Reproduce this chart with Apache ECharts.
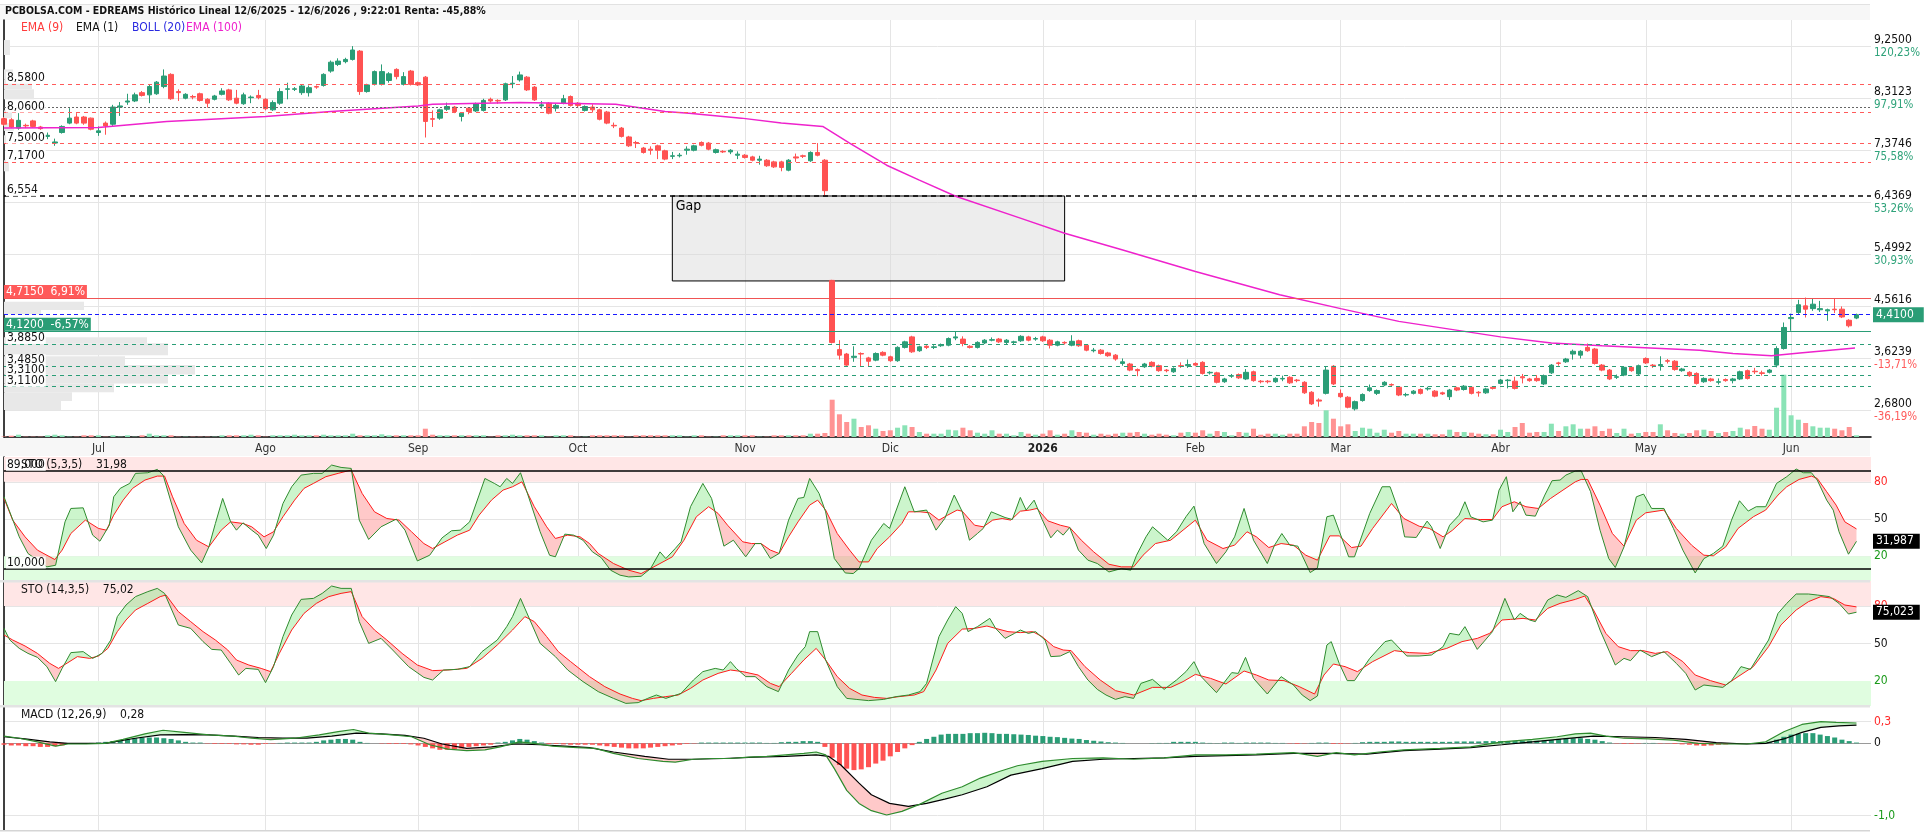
<!DOCTYPE html>
<html>
<head>
<meta charset="utf-8">
<script src="https://cdn.jsdelivr.net/npm/echarts@6/dist/echarts.min.js"></script>
<style>
  html, body { margin: 0; padding: 0; background: #fff; }
  #chart { width: 1924px; height: 835px; }
</style>
</head>
<body>
<div id="chart"></div>
<script>
// sesiones de mercado (incluye dos huecos vacios al final del eje)
const monthDays = [
  ['2025-06', [12,13,16,17,18,19,20,23,24,25,26,27,30]],
  ['2025-07', [1,2,3,4,7,8,9,10,11,14,15,16,17,18,21,22,23,24,25,28,29,30,31]],
  ['2025-08', [1,4,5,6,7,8,11,12,13,14,15,18,19,20,21,22,25,26,27,28,29]],
  ['2025-09', [1,2,3,4,5,8,9,10,11,12,15,16,17,18,19,22,23,24,25,26,29,30]],
  ['2025-10', [1,2,3,6,7,8,9,10,13,14,15,16,17,20,21,22,23,24,27,28,29,30,31]],
  ['2025-11', [3,4,5,6,7,10,11,12,13,14,17,18,19,20,21,24,25,26,27,28]],
  ['2025-12', [1,2,3,4,5,8,9,10,11,12,15,16,17,18,19,22,23,24,29,30,31]],
  ['2026-01', [2,5,6,7,8,9,12,13,14,15,16,19,20,21,22,23,26,27,28,29,30]],
  ['2026-02', [2,3,4,5,6,9,10,11,12,13,16,17,18,19,20,23,24,25,26,27]],
  ['2026-03', [2,3,4,5,6,9,10,11,12,13,16,17,18,19,20,23,24,25,26,27,30,31]],
  ['2026-04', [1,2,7,8,9,10,13,14,15,16,17,20,21,22,23,24,27,28,29,30]],
  ['2026-05', [4,5,6,7,8,11,12,13,14,15,18,19,20,21,22,25,26,27,28,29]],
  ['2026-06', [1,2,3,4,5,8,9,10,11,12,15,16]]
];
const monthNames = ['Jul','Ago','Sep','Oct','Nov','Dic','2026','Feb','Mar','Abr','May','Jun'];

// [apertura, cierre, minimo, maximo]
const ohlc = [
  [7.95,7.85,7.82,7.98],[7.93,7.80,7.78,7.96],[7.78,7.92,7.75,8.05],[7.83,7.82,7.78,7.86],[7.91,7.81,7.79,7.93],
  [7.80,7.77,7.75,7.82],[7.63,7.65,7.58,7.70],[7.51,7.53,7.46,7.59],[7.70,7.81,7.68,7.83],[7.87,7.96,7.85,8.14],
  [7.98,7.87,7.85,8.05],[7.98,7.87,7.84,8.00],[7.96,7.76,7.74,7.97],[7.70,7.73,7.64,7.81],[7.87,7.82,7.66,7.90],
  [7.85,8.16,7.82,8.20],[8.16,8.18,8.00,8.25],[8.25,8.27,8.20,8.40],[8.27,8.38,8.25,8.42],[8.42,8.37,8.35,8.45],
  [8.38,8.53,8.23,8.56],[8.40,8.61,8.38,8.63],[8.53,8.72,8.50,8.84],[8.75,8.31,8.29,8.77],[8.44,8.42,8.27,8.48],
  [8.32,8.39,8.30,8.41],[8.35,8.34,8.30,8.38],[8.40,8.28,8.26,8.42],[8.30,8.23,8.15,8.32],[8.30,8.36,8.28,8.38],
  [8.39,8.45,8.37,8.50],[8.47,8.29,8.27,8.49],[8.32,8.23,8.21,8.47],[8.22,8.38,8.20,8.42],[8.33,8.34,8.23,8.37],
  [8.37,8.33,8.30,8.47],[8.30,8.13,8.10,8.32],[8.11,8.24,8.09,8.28],[8.23,8.44,8.20,8.50],[8.48,8.49,8.30,8.60],
  [8.48,8.49,8.45,8.52],[8.42,8.54,8.38,8.57],[8.42,8.51,8.35,8.55],[8.53,8.52,8.49,8.55],[8.55,8.75,8.53,8.77],
  [8.81,8.97,8.78,9.00],[8.93,8.99,8.90,9.04],[8.98,9.02,8.95,9.05],[9.02,9.19,9.00,9.26],[9.17,8.44,8.38,9.19],
  [8.44,8.56,8.42,8.58],[8.57,8.80,8.55,8.82],[8.57,8.80,8.55,8.93],[8.64,8.76,8.60,8.79],[8.84,8.71,8.66,8.86],
  [8.57,8.71,8.55,8.79],[8.81,8.57,8.55,8.83],[8.60,8.56,8.54,8.62],[8.70,7.90,7.61,8.72],[7.95,7.94,7.80,8.10],
  [7.96,8.11,7.93,8.13],[8.12,8.17,8.09,8.24],[8.16,8.08,8.05,8.18],[7.99,8.05,7.90,8.07],[8.14,8.08,8.03,8.16],
  [8.09,8.22,8.07,8.24],[8.10,8.28,8.08,8.31],[8.30,8.27,8.24,8.33],[8.28,8.27,8.22,8.30],[8.29,8.58,8.27,8.60],
  [8.58,8.59,8.50,8.72],[8.65,8.74,8.62,8.80],[8.70,8.47,8.45,8.72],[8.52,8.29,8.27,8.54],[8.18,8.20,8.13,8.27],
  [8.23,8.05,8.03,8.25],[8.14,8.19,8.08,8.22],[8.23,8.31,8.21,8.38],[8.35,8.19,8.17,8.37],[8.23,8.19,8.16,8.25],
  [8.10,8.17,8.08,8.19],[8.16,8.11,8.06,8.21],[8.11,7.94,7.92,8.13],[8.07,7.87,7.85,8.09],[7.83,7.82,7.78,7.88],
  [7.78,7.63,7.61,7.80],[7.62,7.46,7.44,7.64],[7.52,7.51,7.42,7.55],[7.42,7.34,7.32,7.44],[7.40,7.38,7.30,7.45],
  [7.46,7.38,7.22,7.48],[7.37,7.22,7.20,7.39],[7.27,7.28,7.22,7.35],[7.28,7.29,7.25,7.33],[7.38,7.40,7.30,7.45],
  [7.38,7.46,7.36,7.48],[7.52,7.47,7.45,7.54],[7.51,7.40,7.38,7.53],[7.34,7.39,7.32,7.41],[7.36,7.35,7.33,7.38],
  [7.35,7.38,7.31,7.40],[7.29,7.31,7.22,7.36],[7.29,7.25,7.23,7.31],[7.26,7.20,7.18,7.28],[7.20,7.22,7.12,7.28],
  [7.20,7.10,7.08,7.22],[7.17,7.08,7.06,7.19],[7.17,7.07,7.00,7.19],[7.02,7.20,7.00,7.22],[7.26,7.24,7.17,7.32],
  [7.28,7.27,7.24,7.30],[7.19,7.34,7.17,7.36],[7.34,7.29,7.27,7.51],[7.20,6.65,6.554,7.22],[5.03,3.91,3.89,5.04],
  [3.78,3.68,3.60,3.95],[3.70,3.50,3.47,3.72],[3.64,3.66,3.56,3.84],[3.71,3.70,3.48,3.73],[3.63,3.57,3.48,3.65],
  [3.59,3.71,3.57,3.73],[3.73,3.68,3.66,3.75],[3.65,3.58,3.56,3.67],[3.58,3.82,3.56,3.84],[3.82,3.92,3.80,3.94],
  [4.01,3.74,3.72,4.03],[3.76,3.83,3.74,3.85],[3.84,3.82,3.79,3.86],[3.82,3.83,3.79,3.86],[3.85,3.87,3.83,3.89],
  [3.86,3.98,3.84,4.00],[3.99,4.01,3.95,4.10],[3.97,3.89,3.84,4.02],[3.84,3.82,3.80,3.86],[3.82,3.91,3.80,3.93],
  [3.90,3.95,3.88,3.97],[3.95,3.96,3.93,4.00],[3.97,3.92,3.90,3.99],[3.91,3.95,3.88,3.97],[3.91,3.92,3.87,3.94],
  [3.94,4.02,3.92,4.04],[4.01,3.95,3.93,4.03],[3.97,3.98,3.94,4.01],[4.01,3.94,3.92,4.03],[3.95,3.86,3.80,3.97],
  [3.86,3.92,3.84,3.94],[3.91,3.90,3.87,3.93],[3.86,3.93,3.84,4.04],[3.94,3.85,3.83,3.96],[3.86,3.77,3.75,3.88],
  [3.76,3.77,3.73,3.81],[3.77,3.71,3.69,3.79],[3.72,3.67,3.65,3.74],[3.68,3.61,3.58,3.70],[3.53,3.56,3.49,3.62],
  [3.52,3.41,3.39,3.54],[3.42,3.40,3.30,3.44],[3.47,3.52,3.45,3.54],[3.55,3.48,3.46,3.57],[3.49,3.40,3.38,3.51],
  [3.41,3.40,3.37,3.43],[3.38,3.44,3.36,3.46],[3.49,3.48,3.45,3.55],[3.49,3.51,3.45,3.60],[3.53,3.50,3.48,3.55],
  [3.55,3.35,3.33,3.57],[3.36,3.37,3.33,3.39],[3.36,3.19,3.17,3.38],[3.20,3.25,3.18,3.27],[3.30,3.31,3.27,3.34],
  [3.33,3.27,3.25,3.35],[3.25,3.37,3.23,3.43],[3.38,3.22,3.20,3.40],[3.21,3.20,3.17,3.23],[3.21,3.20,3.17,3.23],
  [3.20,3.26,3.18,3.28],[3.25,3.26,3.21,3.31],[3.28,3.18,3.16,3.30],[3.23,3.22,3.19,3.25],[3.19,3.00,2.98,3.21],
  [3.01,2.80,2.78,3.03],[2.87,2.85,2.75,2.90],[2.99,3.41,2.97,3.48],[3.48,3.16,3.14,3.50],[2.99,2.93,2.91,3.06],
  [2.92,2.74,2.72,2.94],[2.71,2.84,2.68,2.86],[2.86,2.97,2.84,2.99],[3.04,3.09,3.02,3.15],[2.99,3.04,2.96,3.06],
  [3.14,3.19,3.12,3.21],[3.15,3.14,3.11,3.17],[3.10,2.96,2.94,3.12],[2.96,2.97,2.93,3.00],[2.99,3.03,2.97,3.05],
  [3.06,2.99,2.97,3.08],[3.07,3.08,3.04,3.11],[3.03,2.94,2.92,3.05],[3.00,2.98,2.96,3.02],[2.93,3.05,2.87,3.07],
  [3.09,3.05,3.03,3.11],[3.06,3.12,3.04,3.14],[3.10,2.99,2.97,3.12],[3.01,3.00,2.93,3.03],[3.00,3.07,2.98,3.09],
  [3.10,3.08,3.06,3.12],[3.17,3.23,3.15,3.25],[3.22,3.23,3.08,3.25],[3.21,3.08,3.06,3.29],[3.29,3.27,3.17,3.34],
  [3.25,3.22,3.20,3.27],[3.26,3.22,3.20,3.32],[3.16,3.31,3.14,3.33],[3.36,3.50,3.34,3.52],[3.54,3.53,3.49,3.56],
  [3.56,3.61,3.54,3.63],[3.70,3.75,3.60,3.78],[3.68,3.75,3.62,3.77],[3.82,3.76,3.74,3.89],[3.79,3.53,3.51,3.81],
  [3.50,3.41,3.39,3.52],[3.41,3.25,3.23,3.43],[3.28,3.29,3.25,3.33],[3.32,3.46,3.30,3.48],[3.46,3.40,3.38,3.48],
  [3.34,3.49,3.32,3.51],[3.62,3.54,3.52,3.64],[3.50,3.49,3.45,3.52],[3.49,3.51,3.40,3.66],[3.58,3.57,3.53,3.61],
  [3.57,3.42,3.40,3.59],[3.40,3.43,3.38,3.45],[3.37,3.31,3.29,3.39],[3.35,3.17,3.15,3.37],[3.20,3.26,3.18,3.28],
  [3.25,3.22,3.20,3.27],[3.19,3.20,3.15,3.26],[3.24,3.22,3.20,3.26],[3.22,3.25,3.17,3.27],[3.25,3.38,3.23,3.40],
  [3.40,3.26,3.24,3.42],[3.39,3.38,3.34,3.45],[3.36,3.35,3.31,3.40],[3.37,3.41,3.35,3.43],[3.50,3.80,3.46,3.84],
  [3.80,4.18,3.78,4.27],[4.34,4.36,4.12,4.43],[4.45,4.59,4.41,4.68],[4.57,4.51,4.36,4.72],[4.52,4.60,4.48,4.70],
  [4.50,4.52,4.46,4.66],[4.48,4.50,4.30,4.52],[4.51,4.50,4.44,4.71],[4.51,4.37,4.35,4.56],[4.31,4.21,4.18,4.33],
  [4.35,4.41,4.33,4.43]
];

// volumen diario (miles de titulos)
const volume = [
  5,13,23,3,3,3,17,23,17,3, 3,17,17,17,3,17,3,17,3,17, 33,17,17,17,3,3,3,3,3,3,
  17,17,17,17,23,17,3,17,17,17, 23,17,17,17,23,17,17,17,33,17, 17,17,27,17,17,17,17,17,83,23,
  17,17,17,17,17,17,17,3,17,17, 23,17,17,17,17,3,17,17,17,3, 3,17,17,17,17,17,3,17,17,17,
  17,17,17,17,3,17,17,3,3,17, 17,17,17,17,3,3,17,17,17,17, 17,33,33,40,373,227,150,183,100,117,
  83,60,67,93,117,100,50,33,33,33, 73,67,93,67,43,33,67,33,33,17, 50,33,23,33,67,23,33,67,50,43,
  23,33,23,33,43,43,50,33,23,33, 23,17,43,50,43,67,33,60,50,17, 50,43,83,23,33,33,23,33,33,107,
  150,140,267,183,107,127,60,93,83,43, 73,43,60,33,33,33,33,27,27,73, 50,50,43,33,27,27,73,50,100,140,
  43,50,50,133,60,107,127,83,83,107, 60,83,40,83,33,40,50,50,127,67, 40,33,40,67,73,60,40,50,60,93,
  77,110,83,73,293,623,217,173,140,107, 93,93,83,67,100,17
];

// perfil de volumen por precio: [volumen, precio bajo, precio alto]
const volProfile = [
  [60, 9.10, 9.37], [90, 8.66, 8.84], [280, 8.48, 8.66], [300, 8.30, 8.48], [80, 7.96, 8.10],
  [100, 7.73, 7.87], [40, 7.50, 7.65], [50, 7.00, 7.20],
  [800, 4.494, 4.645], [370, 4.42, 4.494], [1430, 3.897, 4.005], [1640, 3.68, 3.897],
  [1210, 3.50, 3.66], [1910, 3.33, 3.50], [1640, 3.17, 3.33], [1100, 3.01, 3.17],
  [680, 2.85, 3.01], [570, 2.69, 2.85]
];

// EMA(100): [sesion, precio]
const ema100 = [
  [0,7.78],[13,7.79],[22.4,7.90],[36,7.99],[45,8.08],[57,8.18],[59,8.21],[71,8.24],[84.2,8.21],
  [91,8.08],[94.3,8.05],[101.5,7.96],[107,7.87],[112.7,7.81],[116.4,7.51],[121.5,7.11],[126,6.84],
  [131,6.55],[140,6.15],[146,5.88],[154,5.58],[164,5.19],[175.6,4.77],[184,4.52],[192,4.29],
  [199,4.15],[206,4.01],[213,3.90],[220,3.85],[226.6,3.81],[233.4,3.77],[238,3.71],[243.3,3.67],
  [247.2,3.72],[254.8,3.81]
];

// niveles horizontales
const resistLevels = [8.58, 8.06, 7.50, 7.17];
const supportLevels = [3.885, 3.485, 3.31, 3.11];
const gapLevel = 6.554;
const refPrice = 8.149;
const upperBand = 4.715;
const lowerBand = 4.12;
const lastPrice = 4.41;
const gapZone = [92, 146, 6.554, 5.02];   // sesion inicio, sesion fin, precio alto, precio bajo

// escala derecha del precio
const priceTicks = [2.68, 3.6239, 4.5616, 5.4992, 6.4369, 7.3746, 8.3123, 9.25];
const priceTickPct = ['-36,19%', '-13,71%', '', '30,93%', '53,26%', '75,58%', '97,91%', '120,23%'];

// STO (5,3,5)
const stoFastK = [[0,67.9],[2.1,35.6],[3.3,22.2],[4.6,16.8],[5.9,11.4],[7.1,12.7],[8.4,47.7],[9.2,58.5],[10.9,59.0],[12.2,37.0],[13.2,32.1],[14.5,45.0],[15.1,67.9],[16.0,74.7],[17.3,78.7],[18.1,86.8],[19.8,87.3],[21.1,90.0],[21.9,85.4],[24.0,43.7],[25.7,24.9],[27.2,14.6],[28.2,27.5],[29.1,46.4],[30.1,66.6],[31.2,47.7],[32.0,41.0],[32.9,46.9],[34.1,41.0],[35.0,37.0],[36.1,26.2],[37.1,37.0],[38.4,62.5],[39.6,76.0],[40.9,85.4],[42.6,86.8],[43.8,86.8],[45.1,93.5],[46.4,91.6],[47.8,90.8],[48.9,49.1],[50.2,33.5],[51.9,43.7],[54.0,49.9],[55.2,41.0],[56.9,16.2],[58.6,20.8],[60.3,34.8],[61.6,40.5],[62.8,41.0],[64.1,47.7],[65.4,69.3],[66.2,82.7],[67.5,78.7],[68.3,76.0],[69.2,82.7],[70.0,78.7],[71.1,87.3],[71.9,73.3],[73.8,39.7],[75.1,20.8],[75.9,19.5],[77.2,37.8],[78.4,37.0],[79.7,32.9],[81.0,23.5],[82.2,18.9],[83.5,8.7],[84.8,4.7],[86.0,3.3],[87.7,3.8],[89.0,10.0],[90.3,23.5],[91.1,18.1],[92.4,26.2],[93.2,31.6],[94.5,59.9],[96.2,78.7],[97.4,66.6],[99.1,28.1],[100.4,32.9],[102.1,19.5],[103.4,30.2],[104.2,30.2],[105.5,18.1],[106.7,22.2],[108.0,49.1],[109.3,66.6],[110.1,67.4],[110.9,82.7],[112.2,70.6],[113.1,55.8],[114.3,18.1],[115.8,6.5],[116.9,6.0],[117.7,10.0],[119.4,32.9],[121.1,46.4],[121.9,42.4],[124.0,76.0],[125.3,55.8],[127.0,57.2],[128.3,41.0],[129.5,50.4],[130.8,69.3],[131.9,56.0],[132.9,32.9],[134.0,38.3],[134.8,42.4],[135.9,55.8],[137.8,51.2],[138.8,49.6],[139.9,67.4],[140.7,57.2],[141.8,65.2],[142.9,49.6],[144.1,34.8],[145.0,41.0],[145.8,37.0],[146.7,43.2],[147.9,24.9],[149.2,16.8],[150.5,14.1],[152.1,7.3],[153.8,10.0],[155.1,8.7],[155.9,20.8],[157.2,35.6],[158.1,43.7],[160.2,32.9],[161.4,39.7],[162.7,51.8],[163.8,60.4],[165.2,30.2],[166.9,14.1],[168.2,23.5],[169.4,35.6],[170.7,58.5],[172.0,32.9],[173.9,14.1],[174.9,28.9],[175.9,38.3],[177.0,28.9],[178.1,28.1],[179.8,6.8],[180.8,10.6],[182.1,51.8],[183.0,53.1],[185.1,19.5],[185.9,19.5],[188.0,54.5],[189.7,76.0],[190.8,76.0],[192.2,53.1],[192.8,35.6],[194.4,35.1],[195.9,48.3],[196.5,43.7],[197.7,26.2],[199.0,45.0],[200.3,53.1],[201.1,63.9],[201.9,51.8],[203.6,47.7],[204.9,49.1],[205.8,73.3],[206.8,84.1],[207.7,55.8],[208.7,63.9],[209.5,53.1],[210.8,52.3],[212.1,69.3],[213.1,80.9],[214.2,81.4],[215.0,85.4],[216.3,88.7],[217.1,88.9],[218.4,72.0],[219.7,41.0],[220.9,18.1],[221.8,10.9],[223.0,27.5],[224.7,67.9],[225.7,70.1],[226.8,58.5],[228.5,58.5],[229.8,42.4],[231.1,24.9],[232.8,6.5],[234.0,18.1],[235.3,22.2],[236.6,28.1],[237.8,49.1],[238.9,64.7],[240.1,56.4],[241.2,59.9],[242.5,59.9],[244.0,78.7],[245.4,84.1],[246.7,90.3],[247.7,87.3],[248.8,87.3],[249.6,81.4],[250.9,65.2],[251.8,57.2],[252.6,39.7],[253.9,21.6],[255,31.987]];
const stoFastD = [[0,66.6],[1.2,49.1],[2.9,35.6],[4.6,24.9],[7.0,17.3],[8.0,24.9],[9.2,38.3],[11.2,49.1],[13.0,42.4],[14.1,41.0],[15.1,53.1],[16.4,65.2],[17.7,74.7],[19.4,81.4],[21.1,84.6],[22.1,84.6],[23.2,67.9],[24.8,46.4],[26.5,32.9],[28.2,27.5],[29.9,41.0],[31.2,47.7],[32.9,46.4],[34.1,43.7],[35.8,35.6],[37.1,39.7],[38.4,51.8],[40.0,65.2],[41.3,74.7],[42.6,78.7],[44.3,84.1],[46.0,86.8],[47.8,89.5],[49.3,70.6],[51.0,55.8],[52.7,50.4],[54.4,49.1],[56.1,39.7],[57.8,30.2],[59.0,26.2],[60.7,31.6],[62.4,37.0],[64.1,41.0],[65.4,53.1],[67.1,65.2],[68.7,73.3],[70.0,76.0],[71.3,80.0],[73.0,59.9],[74.7,43.7],[75.9,34.3],[77.6,37.0],[79.3,35.6],[80.6,30.2],[81.8,22.2],[83.9,14.1],[86.0,8.7],[87.7,6.0],[89.0,10.0],[90.3,14.1],[92.0,19.5],[93.6,32.9],[95.3,51.8],[97.0,59.9],[98.3,54.5],[99.6,45.0],[101.7,31.6],[102.9,30.2],[104.2,30.2],[105.5,24.9],[106.7,22.2],[108.0,35.6],[109.3,47.7],[110.9,61.2],[112.0,65.2],[113.1,57.2],[114.7,38.3],[116.4,24.9],[117.7,15.4],[119.0,15.4],[120.2,26.2],[121.9,35.6],[123.6,46.4],[124.5,55.8],[126.1,55.8],[127.4,55.0],[128.7,49.1],[129.9,53.1],[131.2,57.2],[131.9,56.3],[133.6,45.0],[134.8,43.7],[136.1,49.1],[137.4,50.4],[138.6,49.1],[139.9,56.3],[141.2,57.2],[142.2,58.5],[143.7,48.5],[145.4,45.0],[146.7,43.2],[148.3,32.9],[150.0,23.5],[152.1,13.5],[153.8,11.4],[155.5,11.4],[156.8,20.8],[158.5,30.2],[160.6,32.9],[162.3,41.0],[164.0,49.1],[165.6,32.9],[167.8,26.2],[169.4,28.9],[171.1,39.7],[172.4,35.6],[174.1,27.0],[175.8,30.2],[177.5,28.9],[179.2,20.8],[180.8,16.8],[182.5,36.4],[183.8,36.4],[185.5,27.0],[186.8,28.1],[188.4,42.4],[191.0,62.5],[192.7,50.4],[194.8,44.2],[196.2,42.4],[198.1,35.6],[199.4,41.0],[201.1,50.4],[203.2,49.6],[204.9,49.6],[206.2,59.9],[207.9,63.9],[209.5,59.9],[211.2,58.5],[212.9,66.6],[214.6,73.3],[216.3,80.0],[217.1,81.9],[218.0,81.9],[219.7,61.2],[221.4,38.3],[223.0,28.1],[224.7,49.1],[226.0,55.0],[228.5,57.2],[230.2,42.4],[232.3,28.9],[234.0,20.8],[235.3,20.3],[237.0,27.5],[238.7,42.4],[240.8,51.8],[242.5,57.2],[244.2,69.3],[245.4,76.0],[247.1,81.9],[248.8,84.6],[249.6,82.7],[250.9,72.0],[252.2,61.2],[253.4,47.7],[255,42.0]];

// STO (14,3,5)
const stoSlowK = [[0,62.1],[0.8,52.8],[2.1,46.1],[3.3,42.1],[4.6,38.9],[5.9,31.5],[7.1,19.5],[8.0,30.1],[9.2,42.7],[10.9,43.5],[12.2,38.1],[13.5,42.1],[14.7,52.8],[15.6,71.5],[16.8,80.8],[18.1,87.5],[19.8,91.5],[21.1,94.1],[22.1,90.1],[24.0,64.8],[25.7,62.1],[27.4,51.5],[28.6,45.3],[29.9,44.8],[31.2,34.1],[32.3,24.8],[33.3,30.1],[35.0,29.3],[36.0,18.7],[37.1,31.5],[38.4,55.5],[39.6,72.8],[40.9,85.3],[42.6,86.1],[43.8,90.1],[45.1,96.0],[46.4,94.1],[47.8,94.1],[48.9,67.5],[50.2,50.1],[51.9,54.1],[53.5,44.8],[55.7,31.5],[57.8,22.9],[59.0,20.8],[60.5,28.8],[62.4,29.3],[64.1,31.5],[65.8,43.5],[67.9,52.8],[69.2,63.5],[70.0,71.5],[71.1,86.1],[72.1,72.8],[73.8,50.1],[75.9,39.5],[77.6,28.8],[79.7,19.5],[81.8,11.5],[83.9,6.1],[85.6,2.1],[87.3,2.7],[88.6,6.1],[89.8,8.8],[91.1,6.1],[93.2,10.1],[94.9,20.8],[96.2,27.5],[97.9,30.1],[99.0,28.8],[100.0,35.5],[100.8,30.1],[102.1,23.5],[103.4,23.5],[105.0,15.5],[106.6,11.5],[108.0,28.8],[109.3,40.8],[110.3,47.5],[110.9,59.5],[112.0,59.5],[113.1,36.8],[114.7,15.5],[116.0,6.1],[117.3,5.3],[119.0,4.3],[121.1,5.3],[122.8,7.5],[124.5,8.8],[126.1,11.5],[127.0,18.1],[128.7,55.5],[129.9,68.8],[131.0,79.5],[131.9,74.1],[132.7,59.5],[134.0,63.5],[135.7,70.1],[136.5,62.1],[137.8,54.1],[139.1,58.1],[139.9,60.8],[141.0,58.1],[142.0,59.5],[143.3,52.8],[144.1,39.5],[145.4,40.0],[146.7,43.5],[147.9,31.5],[149.2,20.8],[150.5,13.3],[151.7,8.8],[153.0,5.3],[154.3,7.5],[155.5,6.1],[156.5,18.1],[158.1,21.3],[159.7,13.3],[161.4,20.8],[162.7,27.5],[163.8,35.5],[164.8,23.5],[166.9,10.7],[169.0,26.7],[169.9,26.1],[170.9,38.9],[172.0,22.1],[173.9,9.6],[175.8,23.5],[177.5,16.8],[178.7,8.8],[179.8,4.3],[180.8,8.0],[182.1,48.8],[182.7,51.5],[183.8,34.1],[184.9,20.3],[185.9,20.3],[188.0,38.1],[190.1,51.5],[191.0,52.8],[193.1,40.0],[194.8,40.0],[196.5,40.8],[198.1,47.5],[199.0,58.1],[200.3,56.8],[201.1,63.5],[202.8,45.3],[204.9,59.5],[206.6,86.1],[207.9,68.8],[208.7,74.1],[210.0,68.8],[210.8,67.5],[212.5,84.8],[213.8,88.8],[215.0,86.9],[216.7,92.3],[218.0,87.5],[219.7,60.8],[220.9,44.8],[221.8,32.8],[223.0,38.1],[223.9,36.3],[225.2,44.8],[226.8,39.5],[228.5,43.5],[230.2,34.1],[231.5,26.1],[232.8,12.8],[234.0,16.8],[236.6,14.9],[237.8,20.3],[239.1,31.5],[240.4,29.3],[241.6,40.8],[242.9,52.8],[244.2,74.1],[245.4,82.1],[246.7,89.6],[248.4,89.6],[249.6,88.8],[251.3,87.5],[252.6,82.1],[253.9,73.6],[255,75.023]];
const stoSlowD = [[0,56.8],[1.2,52.8],[2.9,48.0],[4.6,42.1],[6.3,34.1],[7.5,30.1],[8.8,34.7],[10.1,39.5],[11.8,38.1],[13.0,40.0],[14.3,46.1],[15.6,59.5],[16.8,68.8],[18.1,76.8],[19.8,82.1],[21.5,87.5],[22.3,88.8],[24.0,75.5],[25.7,67.5],[27.4,59.5],[29.1,52.8],[30.8,44.8],[32.0,36.8],[33.7,32.8],[35.4,30.1],[36.7,27.5],[37.9,42.1],[39.6,60.8],[41.3,74.1],[43.0,82.1],[44.7,87.5],[46.4,90.1],[47.8,91.5],[49.3,71.5],[51.0,60.8],[52.7,52.8],[54.8,42.1],[56.9,32.8],[59.0,28.3],[61.1,28.8],[63.7,30.1],[65.8,38.1],[67.9,48.8],[70.0,60.8],[71.7,71.5],[73.0,67.5],[74.7,55.5],[76.3,43.5],[78.0,35.5],[80.6,23.5],[82.7,15.5],[84.8,9.6],[86.5,6.1],[87.7,4.3],[89.4,6.1],[91.1,7.5],[92.8,8.8],[94.5,14.1],[96.2,20.8],[98.3,26.1],[100.0,28.8],[101.7,27.5],[103.8,24.8],[105.5,18.1],[106.7,15.5],[108.4,26.1],[110.1,36.8],[111.8,46.1],[113.1,36.8],[114.7,23.5],[116.4,14.1],[118.1,8.8],[119.8,6.9],[121.5,6.1],[123.2,7.5],[125.3,8.8],[126.6,11.5],[128.3,28.8],[129.9,50.1],[131.9,61.5],[133.6,62.1],[135.3,64.0],[136.5,62.1],[138.2,59.5],[139.9,58.7],[141.6,59.5],[142.9,55.5],[144.5,47.5],[145.8,44.8],[146.9,44.3],[148.8,31.5],[150.9,20.8],[153.0,12.3],[155.5,8.8],[158.1,14.9],[160.6,14.9],[162.3,19.5],[164.0,25.3],[166.1,22.1],[168.2,17.6],[170.7,28.0],[172.4,24.8],[174.1,20.8],[176.2,20.3],[178.3,15.5],[180.4,9.6],[181.7,24.8],[183.0,33.6],[184.6,31.5],[186.3,27.5],[188.4,35.5],[191.4,44.3],[193.5,42.7],[196.0,42.1],[198.6,46.1],[200.7,51.5],[202.8,54.1],[204.5,58.1],[206.2,68.8],[207.4,69.3],[209.1,70.1],[210.8,68.8],[212.5,78.1],[214.2,82.1],[216.3,85.3],[217.6,88.0],[218.8,76.8],[220.5,58.1],[222.2,47.5],[223.9,44.3],[225.6,44.3],[227.3,42.1],[229.0,43.5],[231.1,35.5],[232.8,24.8],[234.9,20.3],[237.0,16.8],[238.7,23.5],[240.8,31.5],[242.9,47.5],[244.6,64.8],[246.7,76.8],[248.4,83.5],[250.1,87.5],[251.8,86.1],[253.4,80.8],[255,79.3]];

// MACD (12,26,9)
const macdLine = [[0,0.10],[2.1,0.07],[4.6,0.02],[7.1,-0.04],[8.8,-0.01],[11.3,-0.01],[13.9,0.00],[16.4,0.055],[19.4,0.13],[21.9,0.18],[24.8,0.15],[28.2,0.115],[31.6,0.10],[34.1,0.07],[36.7,0.05],[40.0,0.07],[43.4,0.115],[46.0,0.16],[48.1,0.19],[50.2,0.14],[53.5,0.115],[56.1,0.09],[58.6,-0.02],[61.1,-0.08],[63.7,-0.10],[66.2,-0.09],[68.3,-0.05],[70.9,0.02],[73.0,0.00],[75.5,-0.04],[78.9,-0.06],[81.4,-0.07],[83.9,-0.14],[87.3,-0.21],[90.7,-0.25],[92.4,-0.26],[94.9,-0.22],[97.4,-0.21],[100.0,-0.21],[102.5,-0.19],[105.0,-0.18],[107.6,-0.16],[110.1,-0.14],[111.8,-0.12],[113.1,-0.16],[114.3,-0.35],[116.0,-0.65],[117.7,-0.83],[119.4,-0.93],[121.5,-0.99],[123.6,-0.94],[126.1,-0.84],[129.1,-0.69],[131.9,-0.60],[134.4,-0.48],[137.0,-0.39],[139.5,-0.31],[142.9,-0.25],[147.1,-0.21],[151.3,-0.20],[155.5,-0.22],[159.7,-0.20],[164.0,-0.16],[168.2,-0.16],[172.4,-0.15],[177.5,-0.13],[180.8,-0.18],[183.4,-0.13],[185.9,-0.16],[189.3,-0.12],[192.7,-0.09],[197.7,-0.07],[201.9,-0.05],[206.2,0.02],[210.4,0.055],[213.8,0.09],[216.3,0.13],[218.4,0.14],[220.5,0.10],[223.0,0.07],[226.4,0.06],[229.8,0.045],[233.2,0.00],[236.6,-0.01],[239.9,-0.01],[242.5,0.02],[245.0,0.16],[247.5,0.26],[250.1,0.30],[252.2,0.29],[255,0.28]];
const macdSignal = [[0,0.09],[2.9,0.06],[6.3,0.02],[8.8,0.00],[13.9,0.00],[18.1,0.07],[21.5,0.115],[24.8,0.12],[28.2,0.115],[31.6,0.10],[35.0,0.08],[38.4,0.07],[41.7,0.07],[45.1,0.10],[48.5,0.14],[51.9,0.13],[55.2,0.11],[57.8,0.07],[60.3,-0.01],[63.7,-0.07],[67.1,-0.05],[70.4,-0.01],[73.8,-0.02],[77.2,-0.04],[80.6,-0.06],[83.9,-0.12],[88.2,-0.18],[91.5,-0.22],[94.9,-0.22],[99.1,-0.21],[103.4,-0.19],[107.6,-0.18],[111.8,-0.16],[113.5,-0.18],[115.2,-0.30],[117.7,-0.55],[119.4,-0.71],[121.9,-0.83],[124.5,-0.87],[127.0,-0.83],[129.5,-0.77],[131.9,-0.71],[135.3,-0.60],[138.6,-0.44],[142.9,-0.35],[147.1,-0.25],[151.3,-0.22],[155.5,-0.21],[159.7,-0.20],[164.0,-0.18],[168.2,-0.17],[172.4,-0.16],[177.5,-0.14],[182.5,-0.14],[187.6,-0.15],[192.7,-0.10],[197.7,-0.08],[201.9,-0.06],[206.2,-0.02],[210.4,0.02],[214.6,0.06],[218.8,0.10],[223.0,0.09],[227.3,0.08],[231.5,0.055],[235.7,0.01],[239.9,-0.01],[242.5,0.00],[245.0,0.06],[247.5,0.15],[250.1,0.22],[252.6,0.24],[255,0.25]];
const macdHist = [
  -0.02,-0.03,-0.03,-0.04,-0.04,-0.05,-0.05,-0.04,-0.03,
  -0.01,0,0,0.005,0.01,
  0.02,0.03,0.045,0.06,0.07,0.08,0.08,0.08,0.07,0.06,0.04,0.02,0.01,0.01,
  -0.005,-0.01,-0.01,-0.01,-0.015,-0.015,-0.02,-0.02,-0.01,-0.005,
  0.005,0.01,0.01,0.01,0.01,0.02,
  0.04,0.05,0.06,0.06,0.05,0.02,
  0.005,0,-0.005,
  -0.01,-0.01,-0.01,-0.015,-0.03,
  -0.05,-0.07,-0.09,-0.09,-0.08,-0.07,-0.05,-0.04,-0.03,-0.02,
  0.01,0.02,0.04,0.06,0.05,0.03,0.01,
  -0.01,-0.01,-0.015,-0.02,-0.02,-0.02,-0.02,-0.03,-0.04,-0.05,-0.06,-0.07,-0.07,-0.07,-0.06,-0.05,-0.04,-0.03,-0.02,-0.01,-0.005,
  0.01,0.01,0.01,0.01,0.01,0.01,0.01,0.01,0.01,0.005,0.005,
  0.015,0.02,0.02,0.03,0.03,0.02,
  -0.05,-0.2,-0.3,-0.35,-0.37,-0.36,-0.33,-0.28,-0.24,-0.18,-0.12,-0.07,-0.025,
  0.02,0.06,0.09,0.12,0.13,0.13,
  0.13,0.14,0.14,0.145,0.14,0.13,0.13,0.125,0.12,0.115,0.105,0.1,0.09,0.085,0.075,0.065,0.06,0.045,0.035,0.025,0.015,0.01,
  0.005,0,0,0,0.003,0.005,0.005,
  0.02,0.02,0.02,0.02,0.01,0.005,
  0.003,0.01,0.01,0.005,0.01,0.01,0.01,0.01,0.005,0.005,-0.005,-0.01,-0.005,0.005,0.01,0.01,-0.01,-0.01,-0.005,0.005,
  0.015,0.02,0.02,0.02,0.025,0.025,0.02,0.02,0.02,0.02,0.02,0.02,0.02,0.025,0.025,0.025,0.025,0.03,0.03,0.03,0.03,0.03,0.035,0.035,0.035,0.04,
  0.045,0.06,0.065,0.07,0.07,0.06,0.05,0.03,0.01,
  -0.005,-0.01,-0.01,-0.005,0.005,0.005,
  -0.005,-0.005,-0.01,-0.015,-0.02,-0.03,-0.035,-0.03,-0.02,-0.015,-0.01,-0.005,-0.002,0.002,0.01,
  0.02,0.05,0.09,0.12,0.13,0.14,0.14,0.12,0.1,0.08,0.05,0.03,0.01
];

// ---------------------------------------------------------------------------
const FONT = '"DejaVu Sans Condensed","DejaVu Sans",sans-serif';
const FS = 12;
const UP = '#2a9d76', DOWN = '#ff5252';
const VOL_UP = '#8ae3b6', VOL_DOWN = '#ff9393';
const GRID_COLOR = '#e5e5e5';

const dates = [];
monthDays.forEach(([ym, days]) => days.forEach(d => dates.push(ym + '-' + String(d).padStart(2, '0'))));
const monthStart = monthDays.slice(1).map(([ym]) => dates.findIndex(d => d.startsWith(ym)));
const lastX = dates.length - 1;

const comma = (v, n) => v.toFixed(n).replace('.', ',');
const truncPct = v => (Math.trunc(v * 100) / 100).toFixed(2).replace('.', ',') + '%';

const chart = echarts.init(document.getElementById('chart'), null, { renderer: 'canvas' });

function catAxis(gridIndex, withLabels) {
  return {
    type: 'category', gridIndex: gridIndex, data: dates, boundaryGap: false,
    axisLine: { show: withLabels, lineStyle: { color: '#000', width: 1.5 } },
    axisTick: { show: false },
    axisLabel: {
      show: withLabels, margin: 6, color: '#333', fontSize: FS, fontFamily: FONT,
      interval: (i) => monthStart.includes(i),
      formatter: (v, i) => {
        const name = monthNames[monthStart.indexOf(i)] || '';
        return name === '2026' ? '{b|2026}' : name;
      },
      rich: { b: { fontWeight: 'bold', fontSize: FS, fontFamily: FONT, color: '#222' } }
    },
    splitLine: { show: true, interval: (i) => monthStart.includes(i), lineStyle: { color: GRID_COLOR } }
  };
}
function valAxis(gridIndex, max) {
  return { type: 'value', gridIndex: gridIndex, min: 0, max: max, show: false };
}

// area entre dos polilineas, verde si a>=b, roja si a<b
function polylineY(pts, x) {
  if (x <= pts[0][0]) return pts[0][1];
  for (let i = 1; i < pts.length; i++) {
    if (x <= pts[i][0]) {
      const p = pts[i - 1], q = pts[i];
      return p[1] + (q[1] - p[1]) * (x - p[0]) / (q[0] - p[0]);
    }
  }
  return pts[pts.length - 1][1];
}
function fillBetween(a, b, xi, yi, colUp, colDown, areas) {
  return {
    type: 'custom', xAxisIndex: xi, yAxisIndex: yi, silent: true, z: 2, clip: true,
    data: [[128, 0]],
    markArea: areas,
    renderItem: function (params, api) {
      const xs = Array.from(new Set(a.map(p => p[0]).concat(b.map(p => p[0])))).sort((m, n) => m - n);
      const polys = [];
      let run = null;
      const flush = () => {
        if (run && run.top.length > 1) {
          polys.push({ type: 'polygon', shape: { points: run.top.concat(run.bot.slice().reverse()) },
            style: { fill: run.up ? colUp : colDown } });
        }
      };
      for (let i = 0; i < xs.length; i++) {
        const x = xs[i], ya = polylineY(a, x), yb = polylineY(b, x);
        const up = ya >= yb;
        if (run && up !== run.up) {
          const xp = xs[i - 1], pa = polylineY(a, xp), pb = polylineY(b, xp);
          const t = (pa - pb) / ((pa - pb) - (ya - yb));
          const pc = api.coord([xp + t * (x - xp), pa + t * (ya - pa)]);
          run.top.push(pc); run.bot.push(pc);
          flush();
          run = { up: up, top: [pc], bot: [pc] };
        }
        if (!run) run = { up: up, top: [], bot: [] };
        run.top.push(api.coord([x, ya]));
        run.bot.push(api.coord([x, yb]));
      }
      flush();
      return { type: 'group', children: polys };
    }
  };
}
function stoBands() {
  return {
    silent: true,
    data: [
      [{ yAxis: 80, itemStyle: { color: '#ffe6e6' } }, { yAxis: 100 }],
      [{ yAxis: 0, itemStyle: { color: '#e0fde0' } }, { yAxis: 20 }]
    ]
  };
}
function line(data, xi, yi, color, width) {
  return { type: 'line', xAxisIndex: xi, yAxisIndex: yi, data: data, symbol: 'none', z: 3,
    lineStyle: { color: color, width: width }, itemStyle: { color: color } };
}
function valueBox(v, txt) {
  return { yAxis: v, lineStyle: { color: 'rgba(0,0,0,0)' },
    label: { show: true, position: 'end', distance: 2, formatter: txt, color: '#fff', backgroundColor: '#000',
      fontSize: FS, fontFamily: FONT, padding: [2, 6, 1, 3] } };
}
function leftLabel(v, txt, color, style) {
  return { yAxis: v, lineStyle: style,
    label: { show: true, position: 'insideStartTop', distance: [2, 0], formatter: txt, color: color,
      fontSize: FS, fontFamily: FONT, backgroundColor: 'rgba(255,255,255,0.9)', padding: [0, 1, 0, 1] } };
}

const redDash = { color: '#ff5a5a', type: [4, 4], width: 1 };
const greenDash = { color: '#2a9d76', type: [4, 4], width: 1 };

const priceLines = [];
resistLevels.forEach(v => priceLines.push(leftLabel(v, comma(v, 4), '#111', redDash)));
supportLevels.forEach(v => priceLines.push(leftLabel(v, comma(v, 4), '#111', greenDash)));
priceLines.push({ yAxis: refPrice, label: { show: false }, lineStyle: { color: '#666', type: [2, 2], width: 1 } });
priceLines.push(leftLabel(gapLevel, comma(gapLevel, 3), '#111', { color: '#000', type: [5, 4], width: 1.5 }));
priceLines.push({ yAxis: upperBand, lineStyle: { color: '#f05454', type: 'solid', width: 1.2 },
  label: { show: true, position: 'insideStartTop', distance: [0, 0],
    formatter: comma(upperBand, 4) + '  ' + truncPct((upperBand / lastPrice - 1) * 100),
    color: '#fff', backgroundColor: '#ff5a5a', fontSize: FS, fontFamily: FONT, padding: [1, 2, 0, 2] } });
priceLines.push({ yAxis: lowerBand, lineStyle: { color: '#2a9d76', type: 'solid', width: 1.2 },
  label: { show: true, position: 'insideStartTop', distance: [0, 0],
    formatter: comma(lowerBand, 4) + '  ' + truncPct((lowerBand / lastPrice - 1) * 100),
    color: '#fff', backgroundColor: '#2a9d76', fontSize: FS, fontFamily: FONT, padding: [1, 2, 0, 2] } });
priceLines.push({ yAxis: lastPrice, lineStyle: { color: '#1a1aff', type: [4, 3], width: 1.2 },
  label: { show: true, position: 'end', distance: 2, formatter: comma(lastPrice, 4), color: '#fff',
    backgroundColor: '#2a9d76', fontSize: FS, fontFamily: FONT, padding: [2, 10, 1, 3] } });

const lastK1 = stoFastK[stoFastK.length - 1][1];
const lastK2 = stoSlowK[stoSlowK.length - 1][1];
const lastMacd = macdLine[macdLine.length - 1][1];
const trunc2 = v => comma(Math.trunc(v * 100) / 100, 2);

const txt = (size, color, weight) => ({ fontSize: size, fontWeight: weight || 'normal', fontFamily: FONT, color: color });

const option = {
  animation: false,
  textStyle: { fontFamily: FONT },
  graphic: [
    { type: 'rect', z: -10, shape: { x: 0, y: 5, width: 1870, height: 15 }, style: { fill: '#f7f7f7' } },
    { type: 'rect', z: -10, shape: { x: 0, y: 4, width: 1870, height: 1 }, style: { fill: '#e2e2e2' } },
    { type: 'rect', z: -10, shape: { x: 0, y: 438, width: 1870, height: 18 }, style: { fill: '#f7f7f7' } },
    { type: 'rect', z: 10, shape: { x: 0, y: 580, width: 1870, height: 2.5 }, style: { fill: '#e3e3e3' } },
    { type: 'rect', z: 10, shape: { x: 0, y: 705, width: 1870, height: 2.5 }, style: { fill: '#e3e3e3' } },
    { type: 'rect', z: 10, shape: { x: 0, y: 830, width: 1870, height: 1.5 }, style: { fill: '#d5d5d5' } }
  ],
  title: [
    { text: 'PCBOLSA.COM - EDREAMS Histórico Lineal 12/6/2025 - 12/6/2026 , 9:22:01 Renta: -45,88%',
      left: 5, top: 6, padding: 0, textStyle: txt(10.5, '#111', 'bold') },
    { text: 'EMA (9)', left: 21, top: 22, padding: 0, textStyle: txt(FS, '#ff3b3b') },
    { text: 'EMA (1)', left: 76, top: 22, padding: 0, textStyle: txt(FS, '#111') },
    { text: 'BOLL (20)', left: 132, top: 22, padding: 0, textStyle: txt(FS, '#2a2ae0') },
    { text: 'EMA (100)', left: 186, top: 22, padding: 0, textStyle: txt(FS, '#ee22cc') },
    { text: 'STO (5,3,5)    ' + trunc2(lastK1), left: 21, top: 459, padding: 0, textStyle: txt(FS, '#111') },
    { text: 'STO (14,3,5)    ' + trunc2(lastK2), left: 21, top: 584, padding: 0, textStyle: txt(FS, '#111') },
    { text: 'MACD (12,26,9)    ' + trunc2(lastMacd), left: 21, top: 709, padding: 0, textStyle: txt(FS, '#111') }
  ],
  grid: [
    { left: 4, right: 53, top: 20, height: 417 },
    { left: 4, right: 53, top: 360, height: 77 },
    { left: 4, right: 53, top: 457, height: 124 },
    { left: 4, right: 53, top: 581, height: 125 },
    { left: 4, right: 53, top: 707, height: 123 }
  ],
  xAxis: [
    catAxis(0, true),                       // 0
    valAxis(0, lastX),                      // 1 EMA
    valAxis(0, 18670),                      // 2 perfil de volumen
    Object.assign(catAxis(1, false), { show: false }), // 3 volumen
    catAxis(2, false),                      // 4
    valAxis(2, lastX),                      // 5
    catAxis(3, false),                      // 6
    valAxis(3, lastX),                      // 7
    Object.assign(catAxis(4, false), { axisLine: { show: false } }), // 8
    valAxis(4, lastX)                       // 9
  ],
  yAxis: [
    {
      type: 'value', gridIndex: 0, position: 'right', min: 2.202, max: 9.732, scale: true,
      axisLine: { show: true, lineStyle: { color: '#000', width: 1.5 } },
      axisTick: { show: false, customValues: priceTicks },
      splitLine: { show: true, lineStyle: { color: GRID_COLOR } },
      axisLabel: {
        customValues: priceTicks, margin: 3, fontFamily: FONT,
        formatter: (v) => {
          let k = 0;
          priceTicks.forEach((t, i) => { if (Math.abs(t - v) < Math.abs(priceTicks[k] - v)) k = i; });
          const pct = priceTickPct[k];
          const tag = pct.startsWith('-') ? 'n' : 'p';
          return '{v|' + comma(priceTicks[k], 4) + '}\n{' + tag + '|' + (pct || ' ') + '}';
        },
        rich: {
          v: { fontSize: FS, lineHeight: 13, color: '#111', fontFamily: FONT },
          p: { fontSize: 11.5, lineHeight: 13, color: '#2fa37a', fontFamily: FONT },
          n: { fontSize: 11.5, lineHeight: 13, color: '#ff5a5a', fontFamily: FONT }
        }
      }
    },
    { type: 'value', gridIndex: 1, min: 0, max: 770, show: false },
    {
      type: 'value', gridIndex: 2, position: 'right', min: 0, max: 100,
      axisLine: { show: true, lineStyle: { color: '#000', width: 1.5 } },
      axisTick: { show: false, customValues: [20, 50, 80] },
      splitLine: { show: true, lineStyle: { color: GRID_COLOR } },
      axisLabel: { customValues: [20, 50, 80], margin: 3, fontSize: FS, fontFamily: FONT,
        color: (v) => (v == 80 ? '#ff2a2a' : v == 20 ? '#1a9a1a' : '#111') }
    },
    {
      type: 'value', gridIndex: 3, position: 'right', min: 0, max: 100,
      axisLine: { show: true, lineStyle: { color: '#000', width: 1.5 } },
      axisTick: { show: false, customValues: [20, 50, 80] },
      splitLine: { show: true, lineStyle: { color: GRID_COLOR } },
      axisLabel: { customValues: [20, 50, 80], margin: 3, fontSize: FS, fontFamily: FONT,
        color: (v) => (v == 80 ? '#ff2a2a' : v == 20 ? '#1a9a1a' : '#111') }
    },
    {
      type: 'value', gridIndex: 4, position: 'right', min: -1.197, max: 0.501,
      axisLine: { show: true, lineStyle: { color: '#000', width: 1.5 } },
      axisTick: { show: false, customValues: [-1, 0, 0.3] },
      splitLine: { show: true, lineStyle: { color: [GRID_COLOR, '#9a9a9a', GRID_COLOR] } },
      axisLabel: { customValues: [-1, 0, 0.3], margin: 3, fontSize: FS, fontFamily: FONT,
        formatter: (v) => (v == 0 ? '0' : comma(v, 1)),
        color: (v) => (v > 0 ? '#ff2a2a' : v < 0 ? '#1a9a1a' : '#111') }
    }
  ],
  series: [
    {
      name: 'perfil', type: 'custom', xAxisIndex: 2, yAxisIndex: 0, z: 1, silent: true,
      data: volProfile,
      renderItem: function (params, api) {
        const p0 = api.coord([0, api.value(2)]);
        const p1 = api.coord([api.value(0), api.value(1)]);
        return { type: 'rect', shape: { x: p0[0], y: p0[1], width: p1[0] - p0[0], height: p1[1] - p0[1] },
          style: { fill: '#e8e8e8' } };
      }
    },
    {
      name: 'EDREAMS', type: 'candlestick', xAxisIndex: 0, yAxisIndex: 0, z: 3,
      data: ohlc, barWidth: 5,
      itemStyle: { color: UP, color0: DOWN, borderColor: UP, borderColor0: DOWN, borderWidth: 1 },
      markLine: { symbol: 'none', silent: true, z: 6, data: priceLines },
      markArea: {
        silent: true,
        itemStyle: { color: 'rgba(214,214,214,0.45)', borderColor: '#000', borderWidth: 1 },
        label: { show: true, position: 'insideTopLeft', distance: 4, formatter: 'Gap', color: '#000',
          fontSize: 14, fontFamily: FONT },
        data: [[{ coord: [gapZone[0], gapZone[2]] }, { coord: [gapZone[1], gapZone[3]] }]]
      }
    },
    Object.assign(line(ema100, 1, 0, '#ee22cc', 1.5), { z: 4 }),
    {
      name: 'volumen', type: 'bar', xAxisIndex: 3, yAxisIndex: 1, data: volume, barWidth: 5, z: 2,
      itemStyle: { color: (p) => (ohlc[p.dataIndex][1] >= ohlc[p.dataIndex][0] ? VOL_UP : VOL_DOWN) }
    },
    // STO (5,3,5)
    fillBetween(stoFastK, stoFastD, 5, 2, 'rgba(120,230,120,0.38)', 'rgba(255,120,120,0.4)', stoBands()),
    line(stoFastD, 5, 2, '#ff1a1a', 1),
    Object.assign(line(stoFastK, 5, 2, '#2e8b2e', 1), {
      markLine: { symbol: 'none', silent: true, z: 6, data: [
        leftLabel(89, '89,000', '#111', { color: '#000', type: 'solid', width: 1.5 }),
        leftLabel(10, '10,000', '#111', { color: '#000', type: 'solid', width: 1.5 }),
        valueBox(lastK1, comma(lastK1, 3))
      ] }
    }),
    // STO (14,3,5)
    fillBetween(stoSlowK, stoSlowD, 7, 3, 'rgba(120,230,120,0.38)', 'rgba(255,120,120,0.4)', stoBands()),
    line(stoSlowD, 7, 3, '#ff1a1a', 1),
    Object.assign(line(stoSlowK, 7, 3, '#2e8b2e', 1), {
      markLine: { symbol: 'none', silent: true, z: 6, data: [valueBox(lastK2, comma(lastK2, 3))] }
    }),
    // MACD
    {
      name: 'hist', type: 'bar', xAxisIndex: 8, yAxisIndex: 4, data: macdHist, barWidth: 5, z: 2,
      itemStyle: { color: (p) => (p.value >= 0 ? UP : DOWN) }
    },
    fillBetween(macdLine, macdSignal, 9, 4, 'rgba(120,230,120,0.38)', 'rgba(255,120,120,0.4)', undefined),
    line(macdSignal, 9, 4, '#000', 1.2),
    line(macdLine, 9, 4, '#2e8b2e', 1.2)
  ]
};

chart.setOption(option);
</script>
</body>
</html>
